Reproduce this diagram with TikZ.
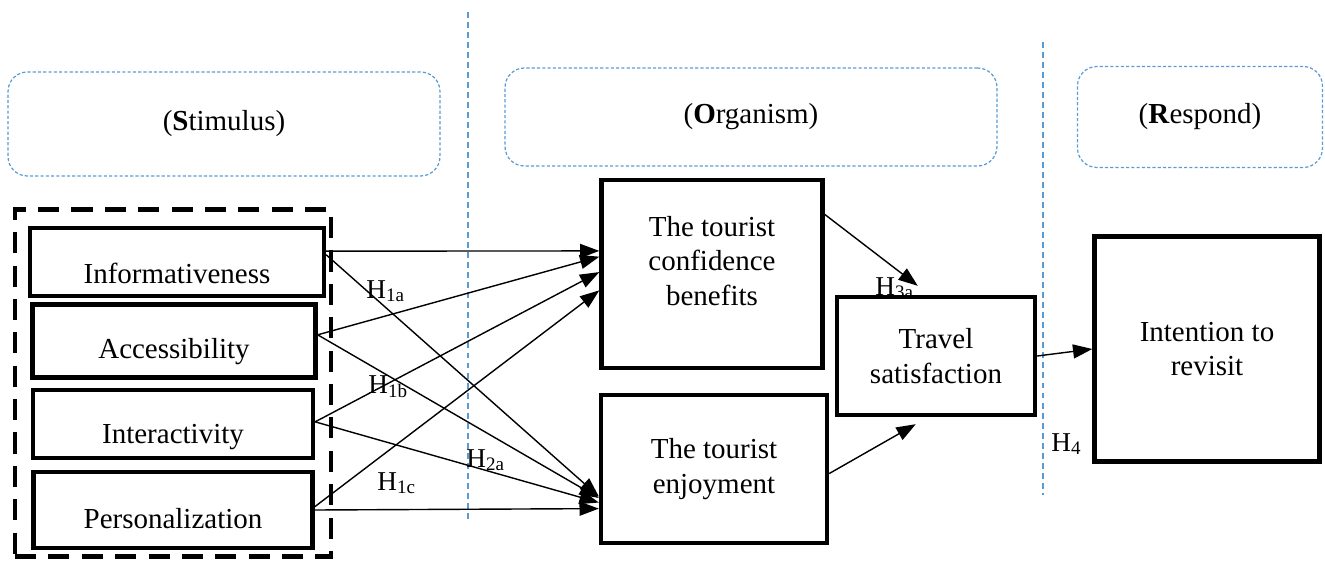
\documentclass[tikz,border=0pt]{standalone}
\usepackage{fontspec}
\setmainfont{Liberation Serif}
\usetikzlibrary{arrows.meta,calc}
\definecolor{wordblue}{HTML}{5B9BD5}

\begin{document}
\begin{tikzpicture}[x=0.02cm, y=-0.02cm,
  box/.style={draw, line width=2.5pt, align=center, font=\fontsize{16.5}{19.5}\selectfont},
  lift/.style={font=\fontsize{16.5}{19.5}\selectfont, align=center},
  group/.style={draw, line width=2.7pt, dash pattern=on 12pt off 7pt},
  phase/.style={draw=wordblue, line width=0.7pt, dash pattern=on 1.8pt off 1.2pt, rounded corners=11pt, font=\fontsize{16.5}{19.5}\selectfont},
  hyp/.style={anchor=base west, inner sep=0pt, font=\fontsize{15.5}{18}\selectfont},
  link/.style={-{Triangle[length=11pt,width=8pt]}, line width=0.8pt},
  divider/.style={wordblue, line width=0.7pt, dash pattern=on 3.4pt off 2.3pt}]
\useasboundingbox (0,0) rectangle (1325,561);

% phase dividers
\draw[divider] (468,12) -- (468,520);
\draw[divider] (1043,42) -- (1043,495);

% S-O-R headings
\node[phase, minimum width=8.64cm, minimum height=2.08cm] (stim) at (224,124) {(\textbf{S}timulus)};
\node[phase, minimum width=9.84cm, minimum height=1.96cm] (org) at (751,117) {(\textbf{O}rganism)};
\node[phase, minimum width=4.9cm, minimum height=2.02cm] (resp) at (1200,117) {(\textbf{R}espond)};

% stimulus factors
\node[group, minimum width=6.32cm, minimum height=6.94cm] (factors) at (173,383) {};
\node[box, minimum width=5.88cm, minimum height=1.36cm, label={[lift, yshift=-0.22cm]center:Informativeness}] (info) at (177,262) {};
\node[box, minimum width=5.66cm, minimum height=1.46cm, label={[lift, yshift=-0.22cm]center:Accessibility}] (access) at (174,341) {};
\node[box, minimum width=5.6cm, minimum height=1.36cm, label={[lift, yshift=-0.26cm]center:Interactivity}] (interact) at (173,424) {};
\node[box, minimum width=5.58cm, minimum height=1.52cm, label={[lift, yshift=-0.18cm]center:Personalization}] (personal) at (173,510) {};

% organism and response
\node[box, minimum width=4.42cm, minimum height=3.76cm, label={[lift, yshift=0.26cm]center:The tourist\\confidence\\benefits}] (conf) at (712,274) {};
\node[box, minimum width=4.52cm, minimum height=2.96cm] (enjoy) at (714,469) {The tourist\\enjoyment};
\node[box, minimum width=3.96cm, minimum height=2.36cm] (travel) at (936,356) {Travel\\satisfaction};
\node[box, minimum width=4.5cm, minimum height=4.5cm] (intent) at (1207,349) {Intention to\\revisit};

% paths
\foreach \s/\a/\t/\b in {info/0.35/conf/0.38, info/0.40/enjoy/0.68, access/0.42/conf/0.41, access/0.42/enjoy/0.69,
  interact/0.47/conf/0.49, interact/0.47/enjoy/0.72, personal/0.46/conf/0.585, personal/0.50/enjoy/0.76}
  \draw[link] ($(\s.north east)!\a!(\s.south east)$) -- ($(\t.north west)!\b!(\t.south west)$);
\draw[link] ($(conf.north east)!0.19!(conf.south east)$) -- ($(travel.north west)!0.41!(travel.north east)+(0,-9)$);
\draw[link] ($(enjoy.north east)!0.53!(enjoy.south east)$) -- ($(travel.south west)!0.4!(travel.south east)+(0,7)$);
\draw[link] (travel.east) -- (intent.west);

% hypotheses
\node[hyp] (h1a) at (366,298) {H\textsubscript{1a}};
\node[hyp] (h1b) at (368,393) {H\textsubscript{1b}};
\node[hyp] (h2a) at (466,467) {H\textsubscript{2a}};
\node[hyp] (h1c) at (377,490) {H\textsubscript{1c}};
\node[hyp] (h3a) at (875,295) {H\textsubscript{3a}};
\node[hyp] (h4) at (1051,451) {H\textsubscript{4}};
\end{tikzpicture}
\end{document}
